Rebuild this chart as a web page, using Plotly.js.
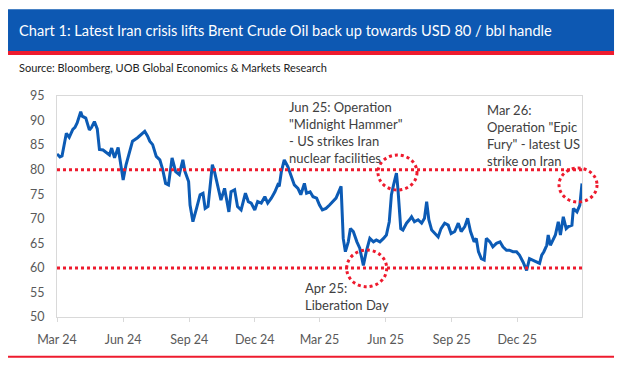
<!DOCTYPE html>
<html>
<head>
<meta charset="utf-8">
<script src="https://cdn.plot.ly/plotly-3.0.1.min.js"></script>
<style>
  html, body { margin: 0; padding: 0; background: #ffffff; }
  #chart { width: 621px; height: 369px; }
</style>
</head>
<body>
<div id="chart"></div>
<script>
// ---- Data ----
const dates = [
  "2024-03-01","2024-03-05","2024-03-08","2024-03-12","2024-03-14","2024-03-18","2024-03-21","2024-03-23","2024-03-26","2024-03-29",
  "2024-04-03","2024-04-05","2024-04-10","2024-04-15","2024-04-18","2024-04-22","2024-04-26","2024-04-29",
  "2024-05-04","2024-05-08","2024-05-13","2024-05-16","2024-05-20","2024-05-25","2024-05-29",
  "2024-06-01","2024-06-05","2024-06-10","2024-06-14","2024-06-21","2024-06-28",
  "2024-07-01","2024-07-05","2024-07-08","2024-07-12","2024-07-17","2024-07-22","2024-07-26","2024-07-30",
  "2024-08-03","2024-08-08","2024-08-13","2024-08-18","2024-08-23","2024-08-26","2024-08-31",
  "2024-09-02","2024-09-06","2024-09-11","2024-09-16","2024-09-20","2024-09-23","2024-09-27",
  "2024-10-03","2024-10-06","2024-10-11","2024-10-15","2024-10-20","2024-10-26","2024-10-29",
  "2024-11-03","2024-11-07","2024-11-12","2024-11-18","2024-11-22","2024-11-26",
  "2024-12-01","2024-12-05","2024-12-10","2024-12-15","2024-12-19","2024-12-24","2024-12-29",
  "2025-01-02","2025-01-04","2025-01-07","2025-01-11","2025-01-16","2025-01-21","2025-01-25","2025-01-30",
  "2025-02-03","2025-02-08","2025-02-11","2025-02-16","2025-02-20","2025-02-25",
  "2025-03-01","2025-03-05","2025-03-10","2025-03-15","2025-03-20","2025-03-24","2025-03-31",
  "2025-04-03","2025-04-06","2025-04-10","2025-04-13","2025-04-17","2025-04-22","2025-04-26",
  "2025-05-01","2025-05-05","2025-05-10","2025-05-15","2025-05-19","2025-05-24","2025-05-29",
  "2025-06-02","2025-06-06","2025-06-09","2025-06-12","2025-06-16","2025-06-18","2025-06-22","2025-06-25","2025-06-30",
  "2025-07-04","2025-07-07","2025-07-11","2025-07-16","2025-07-21","2025-07-25","2025-07-28","2025-07-31",
  "2025-08-04","2025-08-08","2025-08-13","2025-08-17","2025-08-22","2025-08-27","2025-08-31",
  "2025-09-05","2025-09-10","2025-09-14","2025-09-19","2025-09-23","2025-09-27",
  "2025-10-02","2025-10-05","2025-10-08","2025-10-12","2025-10-16","2025-10-19","2025-10-24","2025-10-28",
  "2025-11-02","2025-11-07","2025-11-11","2025-11-16","2025-11-20","2025-11-25","2025-11-30",
  "2025-12-04","2025-12-09","2025-12-14","2025-12-18","2025-12-23","2025-12-28",
  "2026-01-01","2026-01-04","2026-01-07","2026-01-11","2026-01-13","2026-01-16","2026-01-20","2026-01-23","2026-01-27","2026-01-30",
  "2026-02-03","2026-02-07","2026-02-10","2026-02-15","2026-02-17","2026-02-22","2026-02-26","2026-03-01"
];
const brent = [
  83.2,82.6,82.8,85.5,87.4,86.6,87.5,88.2,88.6,89.5,
  91.8,90.9,90.5,88.1,88.6,89.8,88.3,84.1,
  84.0,83.6,83.0,84.4,82.4,84.5,81.0,
  77.9,81.0,83.5,85.8,86.5,87.5,
  87.8,86.8,85.8,85.1,82.7,82.0,80.0,77.2,
  76.9,82.4,79.6,79.0,82.0,79.6,77.6,
  72.8,69.4,72.1,74.9,75.2,72.1,72.5,
  81.0,79.6,76.2,73.8,76.2,71.4,75.5,
  75.9,72.5,71.8,75.2,73.5,73.2,
  71.8,73.5,73.2,74.5,73.2,74.2,75.5,
  76.9,76.6,79.6,82.0,80.6,78.3,76.9,76.2,
  74.9,77.2,75.2,75.5,74.5,74.2,
  72.8,71.8,72.1,72.8,73.5,74.2,76.6,
  66.0,63.3,65.3,68.0,67.4,65.3,64.0,
  60.5,63.3,66.0,65.3,65.7,65.3,66.0,
  66.7,69.4,74.9,76.9,79.3,76.2,68.0,67.7,69.1,
  69.8,70.4,69.4,69.8,69.1,70.1,73.5,69.8,
  67.7,67.0,66.3,68.0,69.1,68.7,67.0,
  67.4,69.1,67.4,68.4,70.1,67.4,
  65.3,66.0,63.3,61.9,61.6,66.0,65.3,64.3,
  65.0,65.3,64.3,63.6,63.6,63.3,63.3,
  62.6,61.2,59.5,61.9,61.6,61.2,
  60.9,62.6,63.3,64.6,66.7,64.6,66.0,66.7,69.4,66.7,
  70.4,68.0,68.4,68.7,72.1,71.4,72.8,77.2
];
const tickDates = ["2024-03-01","2024-06-01","2024-09-01","2024-12-01","2025-03-01","2025-06-01","2025-09-01","2025-12-01"];
const tickLabels = ["Mar 24","Jun 24","Sep 24","Dec 24","Mar 25","Jun 25","Sep 25","Dec 25"];
const yTicks = [50,55,60,65,70,75,80,85,90,95];
const handleLevels = [80, 60];

const titleText = "Chart 1: Latest Iran crisis lifts Brent Crude Oil back up towards USD 80 / bbl handle";
const sourceText = "Source: Bloomberg, UOB Global Economics &amp; Markets Research";
const noteJun = 'Jun 25: Operation<br>"Midnight Hammer"<br>- US strikes Iran<br>nuclear facilities';
const noteMar = 'Mar 26:<br>Operation "Epic<br>Fury" - latest US<br>strike on Iran';
const noteApr = 'Apr 25:<br>Liberation Day';

// ---- Styles ----
const FONT = "Lato, 'Open Sans', sans-serif";
const BLUE_LINE = "#0c5bb5";
const RED = "#ee1b2e";
const BAR_BLUE = "#0d58b2";
const TXT = "#404040";
const GRIDC = "#d9d9d9";

const trace = {
  x: dates, y: brent, type: "scatter", mode: "lines",
  line: { color: BLUE_LINE, width: 3 },
  hoverinfo: "skip", showlegend: false
};

const shapes = [
  // title bar
  { type: "rect", xref: "paper", yref: "paper", x0: -0.0933, x1: 1.061, y0: 1.2036, y1: 1.3923,
    fillcolor: BAR_BLUE, line: { width: 0 }, layer: "above" },
  { type: "rect", xref: "paper", yref: "paper", x0: -0.0933, x1: 1.061, y0: 1.1855, y1: 1.2036,
    fillcolor: RED, line: { width: 0 }, layer: "above" },
  // bottom red rule
  { type: "line", xref: "paper", yref: "paper", x0: -0.0933, x1: 1.061, y0: -0.1796, y1: -0.1796,
    line: { color: RED, width: 2 } },
  // circles
  { type: "circle", xref: "paper", yref: "paper", x0: 0.6114, x1: 0.6857, y0: 0.5747, y1: 0.7330,
    line: { color: RED, width: 3, dash: "dot" } },
  { type: "circle", xref: "paper", yref: "paper", x0: 0.5518, x1: 0.6280, y0: 0.1371, y1: 0.3032,
    line: { color: RED, width: 3, dash: "dot" } },
  { type: "circle", xref: "paper", yref: "paper", x0: 0.9562, x1: 1.0286, y0: 0.5204, y1: 0.6742,
    line: { color: RED, width: 3, dash: "dot" } }
];
handleLevels.forEach(v => shapes.push({
  type: "line", xref: "paper", yref: "y", x0: 0, x1: 1, y0: v, y1: v,
  line: { color: RED, width: 3, dash: "dot" }, layer: "above"
}));

const annotations = [
  { xref: "paper", yref: "paper", x: -0.0757, y: 1.2986, xanchor: "left", yanchor: "middle",
    text: titleText, showarrow: false, font: { family: FONT, size: 14.6, color: "#ffffff" } },
  { xref: "paper", yref: "paper", x: -0.0762, y: 1.1303, xanchor: "left", yanchor: "middle",
    text: sourceText, showarrow: false, font: { family: FONT, size: 11, color: "#222222" } },
  { xref: "paper", yref: "paper", x: 0.4375, y: 0.9977, xanchor: "left", yanchor: "top", align: "left",
    text: noteJun, showarrow: false, font: { family: FONT, size: 13, color: TXT } },
  { xref: "paper", yref: "paper", x: 0.8152, y: 0.9828, xanchor: "left", yanchor: "top", align: "left",
    text: noteMar, showarrow: false, font: { family: FONT, size: 13, color: TXT } },
  { xref: "paper", yref: "paper", x: 0.468, y: 0.1787, xanchor: "left", yanchor: "top", align: "left",
    text: noteApr, showarrow: false, font: { family: FONT, size: 13, color: TXT } }
];

const layout = {
  width: 621, height: 369,
  margin: { l: 57, r: 39, t: 96, b: 52 },
  paper_bgcolor: "#ffffff", plot_bgcolor: "#ffffff",
  font: { family: FONT, color: "#595959", size: 12.5 },
  showlegend: false,
  xaxis: {
    type: "date", range: ["2024-03-01", "2026-03-01"],
    tickvals: tickDates, ticktext: tickLabels,
    showgrid: false, zeroline: false,
    showline: true, linecolor: GRIDC, linewidth: 1, mirror: true,
    ticks: "outside", ticklen: 4, tickcolor: GRIDC,
    ticklabelstandoff: 7,
    tickfont: { family: FONT, size: 12.5, color: "#595959" }
  },
  yaxis: {
    range: [50, 95], tickvals: yTicks,
    showgrid: false, zeroline: false,
    showline: true, linecolor: GRIDC, linewidth: 1, mirror: true,
    ticks: "", ticklabelstandoff: 9,
    tickfont: { family: FONT, size: 12.5, color: "#595959" }
  },
  shapes: shapes,
  annotations: annotations
};

Plotly.newPlot("chart", [trace], layout, { staticPlot: true, displayModeBar: false });
</script>
</body>
</html>
